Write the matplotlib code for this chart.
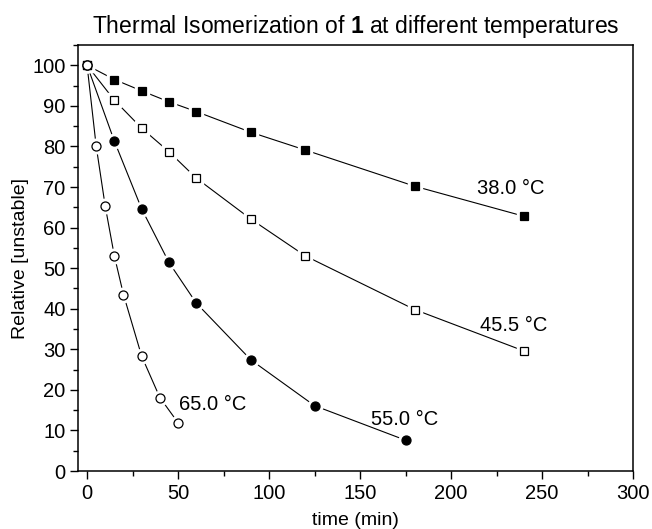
import matplotlib
matplotlib.use('Agg')
import matplotlib.pyplot as plt
from matplotlib.ticker import MultipleLocator

plt.rcParams['font.family'] = ['Liberation Sans', 'DejaVu Sans']
plt.rcParams['mathtext.fontset'] = 'custom'
plt.rcParams['mathtext.rm'] = 'Liberation Sans'
plt.rcParams['mathtext.bf'] = 'Liberation Sans:bold'

# Podaci (očitano sa slike)
t_38 = [0, 15, 30, 45, 60, 90, 120, 180, 240]
y_38 = [100, 96.5, 93.7, 91.0, 88.6, 83.5, 79.1, 70.2, 62.8]

t_45 = [0, 15, 30, 45, 60, 90, 120, 180, 240]
y_45 = [100, 91.4, 84.5, 78.7, 72.2, 62.1, 53.0, 39.8, 29.6]

t_55 = [0, 15, 30, 45, 60, 90, 125, 175]
y_55 = [100, 81.3, 64.6, 51.4, 41.4, 27.4, 16.1, 7.6]

t_65 = [0, 5, 10, 15, 20, 30, 40, 50]
y_65 = [100, 80.1, 65.2, 53.0, 43.5, 28.3, 18.1, 11.9]

oznake = ['38.0 °C', '45.5 °C', '55.0 °C', '65.0 °C']
pozicije_oznaka = [(214, 69.6), (216, 35.8), (156, 12.8), (50.5, 16.3)]

fig = plt.figure(figsize=(6.52, 5.29), dpi=100)
ax = fig.add_axes([0.1196, 0.1096, 0.8513, 0.8053])

serije = [
    (t_38, y_38, 's', 'black', 6.0),
    (t_45, y_45, 's', 'white', 6.0),
    (t_55, y_55, 'o', 'black', 6.5),
    (t_65, y_65, 'o', 'white', 6.5),
]

for t, y, m, boja, ms in serije:
    ax.plot(t, y, '-', color='black', lw=0.8, zorder=2)
    # bijeli "halo" da linija ne dira marker
    ax.plot(t, y, m, ms=ms + 4, color='white', mec='white', zorder=3)
    ax.plot(t, y, m, ms=ms, mfc=boja, mec='black', mew=0.9, zorder=4)

for tekst, (x, y) in zip(oznake, pozicije_oznaka):
    ax.text(x, y, tekst, fontsize=14.5, va='center', ha='left')

ax.set_xlim(-5, 300)
ax.set_ylim(0, 105)
ax.xaxis.set_major_locator(MultipleLocator(50))
ax.xaxis.set_minor_locator(MultipleLocator(25))
ax.yaxis.set_major_locator(MultipleLocator(10))
ax.yaxis.set_minor_locator(MultipleLocator(5))

ax.tick_params(which='major', direction='out', length=6, width=1, labelsize=14.5, pad=3)
ax.tick_params(which='minor', direction='out', length=3.5, width=1)
for s in ax.spines.values():
    s.set_linewidth(1.1)

ax.set_xlabel('time (min)', fontsize=14, labelpad=7)
ax.set_ylabel('Relative [unstable]', fontsize=14, labelpad=2.5)
ax.set_title(r'Thermal Isomerization of $\mathbf{1}$ at different temperatures',
             fontsize=16.5, pad=9)

fig.savefig('out.png', dpi=100)
